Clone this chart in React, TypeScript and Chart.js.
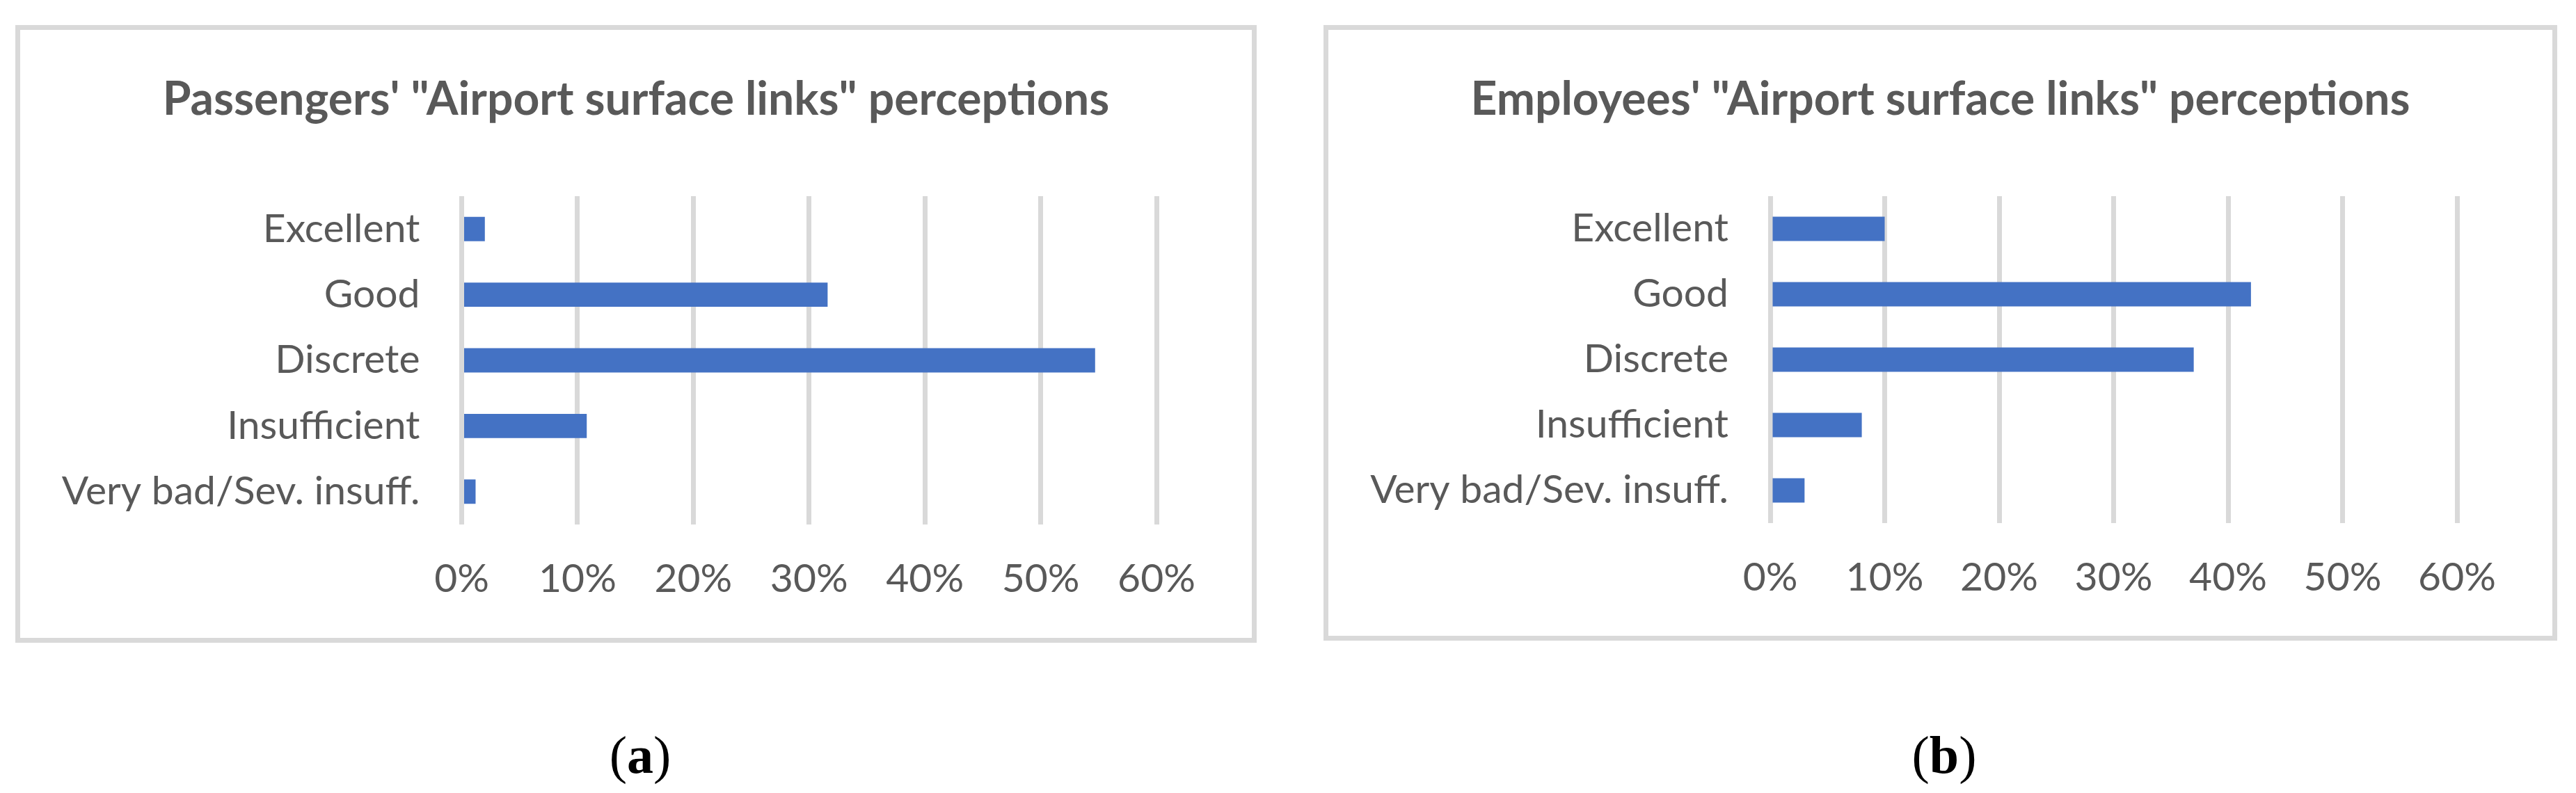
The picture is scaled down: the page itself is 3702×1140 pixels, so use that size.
import React, { useEffect, useRef } from 'react';
import { Chart, registerables } from 'chart.js';

Chart.register(...registerables);

// ---- data ----
const categories = ['Excellent', 'Good', 'Discrete', 'Insufficient', 'Very bad/Sev. insuff.'];
const passengersShare = [2.0, 31.6, 54.7, 10.8, 1.2];
const employeesShare = [10.0, 42.0, 37.0, 8.0, 3.0];
const axisMin = 0;
const axisMax = 60;
const axisStep = 10;
const panelTitles = [
  'Passengers\' "Airport surface links" perceptions',
  'Employees\' "Airport surface links" perceptions',
];
const captionLetters = ['a', 'b'];

// ---- styles ----
const TEXT = '#595959';
const GRID = '#D9D9D9';
const BAR = '#4472C4';
const FONT = 'Lato, "Open Sans", sans-serif';
const TITLE_SIZE = 66;
const TICK_SIZE = 57;
const BORDER = 7;

// draws the panel title centred over the whole canvas
const panelTitlePlugin = {
  id: 'panelTitle',
  afterDraw(chart: any, _args: any, opts: any) {
    const ctx = chart.ctx;
    ctx.save();
    ctx.font = `bold ${opts.size}px ${FONT}`;
    ctx.fillStyle = opts.color;
    ctx.textAlign = 'center';
    ctx.textBaseline = 'alphabetic';
    ctx.fillText(opts.text, chart.width / 2, opts.baseline);
    ctx.restore();
  },
};

type PanelProps = {
  title: string;
  values: number[];
  left: number;
  top: number;
  width: number;
  height: number;
  plotLeft: number;
  plotRight: number;
  plotTop: number;
  plotBottom: number;
};

function Panel(p: PanelProps) {
  const ref = useRef<HTMLCanvasElement | null>(null);
  const cw = p.width - 2 * BORDER;
  const ch = p.height - 2 * BORDER;

  useEffect(() => {
    if (!ref.current) return;
    const xAxisH = 120;
    const chart = new Chart(ref.current, {
      type: 'bar',
      data: {
        labels: categories,
        datasets: [
          {
            data: p.values,
            backgroundColor: BAR,
            borderWidth: 0,
            barPercentage: 0.37,
            categoryPercentage: 1,
          },
        ],
      },
      plugins: [panelTitlePlugin],
      options: {
        indexAxis: 'y',
        responsive: false,
        devicePixelRatio: 1,
        animation: false,
        layout: {
          padding: { left: 0, right: cw - p.plotRight, top: p.plotTop, bottom: ch - p.plotBottom - xAxisH },
        },
        plugins: {
          legend: { display: false },
          tooltip: { enabled: false },
          title: { display: false },
          panelTitle: { text: p.title, size: TITLE_SIZE, color: TEXT, baseline: 122 },
        } as any,
        scales: {
          x: {
            min: axisMin,
            max: axisMax,
            grid: { color: GRID, lineWidth: 7, drawTicks: false },
            border: { display: false },
            ticks: {
              stepSize: axisStep,
              color: TEXT,
              padding: 44,
              font: { family: FONT, size: TICK_SIZE, lineHeight: 1.2 },
              callback: (v: any) => `${v}%`,
            },
            afterFit: (s: any) => {
              s.height = xAxisH;
            },
          },
          y: {
            grid: { display: false, drawTicks: false },
            border: { display: false },
            ticks: {
              color: TEXT,
              padding: 60,
              font: { family: FONT, size: TICK_SIZE, lineHeight: 1.2 },
            },
            afterFit: (s: any) => {
              s.width = p.plotLeft;
            },
          },
        },
      },
    });
    return () => chart.destroy();
  }, []);

  return (
    <div
      style={{
        position: 'absolute',
        left: p.left,
        top: p.top,
        width: p.width,
        height: p.height,
        border: `${BORDER}px solid ${GRID}`,
        boxSizing: 'border-box',
        background: '#fff',
      }}
    >
      <canvas ref={ref} width={cw} height={ch} style={{ display: 'block', width: cw, height: ch }} />
    </div>
  );
}

function Caption({ letter, center }: { letter: string; center: number }) {
  return (
    <div
      style={{
        position: 'absolute',
        left: center - 200,
        width: 400,
        top: 1047,
        textAlign: 'center',
        fontFamily: '"Liberation Serif", "Times New Roman", serif',
        fontSize: 76,
        lineHeight: '76px',
        color: '#000',
      }}
    >
      (<b>{letter}</b>)
    </div>
  );
}

export default function App() {
  return (
    <div style={{ position: 'absolute', left: 0, top: 0, width: 3702, height: 1140, background: '#fff' }}>
      <Panel
        title={panelTitles[0]}
        values={passengersShare}
        left={22}
        top={36}
        width={1784}
        height={888}
        plotLeft={634.5}
        plotRight={1633}
        plotTop={239}
        plotBottom={711}
      />
      <Panel
        title={panelTitles[1]}
        values={employeesShare}
        left={1902}
        top={36}
        width={1773}
        height={885}
        plotLeft={635}
        plotRight={1622}
        plotTop={239}
        plotBottom={709}
      />
      <Caption letter={captionLetters[0]} center={920} />
      <Caption letter={captionLetters[1]} center={2794} />
    </div>
  );
}
